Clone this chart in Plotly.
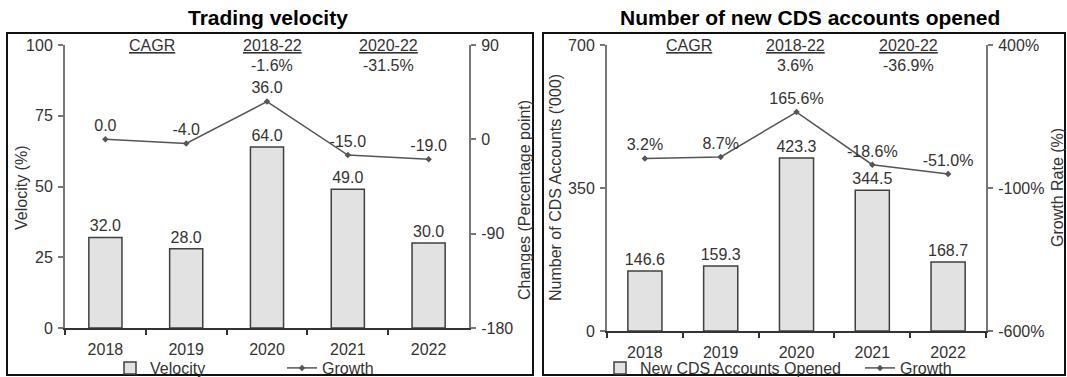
import plotly.graph_objects as go

years = ["2018", "2019", "2020", "2021", "2022"]

velocity = [32.0, 28.0, 64.0, 49.0, 30.0]
velocity_change = [0.0, -4.0, 36.0, -15.0, -19.0]

cds_accounts = [146.6, 159.3, 423.3, 344.5, 168.7]
cds_growth = [3.2, 8.7, 165.6, -18.6, -51.0]

cagr_headers = ["CAGR", "2018-22", "2020-22"]
left_cagr_vals = ["-1.6%", "-31.5%"]
right_cagr_vals = ["3.6%", "-36.9%"]

left_y_ticks = [0, 25, 50, 75, 100]
left_y2_ticks = [-180, -90, 0, 90]
right_y_ticks = [0, 350, 700]
right_y2_ticks = [-600, -100, 400]

W, H = 1067, 377
FONT = "Liberation Sans, Arial, sans-serif"
TXT = "#333333"
BAR_FILL = "#e2e2e2"
BAR_LINE = "#404040"
LINE_C = "#555555"


def px(x):
    return x / W


def py(y):
    return (H - y) / H


fig = go.Figure()

fig.add_trace(go.Bar(
    x=years, y=velocity, name="Velocity", xaxis="x", yaxis="y",
    marker=dict(color=BAR_FILL, line=dict(color=BAR_LINE, width=1.5)),
    width=0.41, text=[f"{v:.1f}" for v in velocity], textposition="outside",
    constraintext="none",
    textfont=dict(size=16, color=TXT), cliponaxis=False, legend="legend",
))
fig.add_trace(go.Scatter(
    x=years, y=velocity_change, name="Growth", xaxis="x", yaxis="y2",
    mode="lines+markers+text", line=dict(color=LINE_C, width=1.5),
    marker=dict(symbol="diamond", size=5, color=LINE_C),
    text=[f"{v:.1f}" for v in velocity_change], textposition="top center",
    textfont=dict(size=16, color=TXT), cliponaxis=False, legend="legend",
))

fig.add_trace(go.Bar(
    x=years, y=cds_accounts, name="New CDS Accounts Opened", xaxis="x2", yaxis="y3",
    marker=dict(color=BAR_FILL, line=dict(color=BAR_LINE, width=1.5)),
    width=0.45, text=[f"{v:.1f}" for v in cds_accounts], textposition="outside",
    constraintext="none",
    textfont=dict(size=16, color=TXT), cliponaxis=False, legend="legend2",
))
fig.add_trace(go.Scatter(
    x=years, y=cds_growth, name="Growth", xaxis="x2", yaxis="y4",
    mode="lines+markers+text", line=dict(color=LINE_C, width=1.5),
    marker=dict(symbol="diamond", size=5, color=LINE_C),
    text=[f"{v:.1f}%" for v in cds_growth], textposition="top center",
    textfont=dict(size=16, color=TXT), cliponaxis=False, legend="legend2",
))

axis_common = dict(showgrid=False, zeroline=False, showline=True,
                   tickfont=dict(size=16, color=TXT, family=FONT),
                   ticks="outside", ticklen=5, fixedrange=True)
xcommon = dict(axis_common, type="category", linecolor="#333333", linewidth=2,
               tickcolor="#333333", tickwidth=1.5, tickson="boundaries",
               ticklabelstandoff=6)
ycommon = dict(axis_common, linecolor="#777777", linewidth=2,
               tickcolor="#777777", tickwidth=1.5, ticklabelstandoff=2)


def tick_text(vals, suffix=""):
    return [f"{v}{suffix}" for v in vals]


fig.update_layout(
    width=W, height=H,
    margin=dict(l=0, r=0, t=0, b=0, autoexpand=False),
    paper_bgcolor="white", plot_bgcolor="white",
    font=dict(family=FONT, size=16, color=TXT),
    xaxis=dict(xcommon, domain=[px(65), px(469)], anchor="y"),
    yaxis=dict(ycommon, domain=[py(328), py(45)], anchor="x",
               range=[0, 100], tickvals=left_y_ticks, ticktext=tick_text(left_y_ticks)),
    yaxis2=dict(ycommon, overlaying="y", side="right", anchor="x",
                range=[-180, 90], tickvals=left_y2_ticks, ticktext=tick_text(left_y2_ticks)),
    xaxis2=dict(xcommon, domain=[px(607), px(986)], anchor="y3"),
    yaxis3=dict(ycommon, domain=[py(331), py(45)], anchor="x2",
                range=[0, 700], tickvals=right_y_ticks, ticktext=tick_text(right_y_ticks)),
    yaxis4=dict(ycommon, overlaying="y3", side="right", anchor="x2",
                range=[-600, 400], tickvals=right_y2_ticks,
                ticktext=tick_text(right_y2_ticks, "%")),
    legend=dict(orientation="h", x=px(110), y=py(368), xanchor="left", yanchor="middle",
                font=dict(size=16, color=TXT), itemwidth=30, entrywidth=127,
                bgcolor="rgba(0,0,0,0)", tracegroupgap=0),
    legend2=dict(orientation="h", x=px(600), y=py(368), xanchor="left", yanchor="middle",
                 font=dict(size=16, color=TXT), itemwidth=30, entrywidth=215,
                 bgcolor="rgba(0,0,0,0)", tracegroupgap=0),
    showlegend=True,
)

shapes = [
    dict(type="rect", xref="paper", yref="paper", x0=px(7), x1=px(533), y0=py(375), y1=py(33),
         line=dict(color="#111111", width=2), fillcolor="rgba(0,0,0,0)", layer="below"),
    dict(type="rect", xref="paper", yref="paper", x0=px(543), x1=px(1065), y0=py(375), y1=py(33),
         line=dict(color="#111111", width=2), fillcolor="rgba(0,0,0,0)", layer="below"),
]
fig.update_layout(shapes=shapes)

ann = []


def add_text(text, x, y, size=16, angle=0, bold=False, color=TXT):
    ann.append(dict(text=f"<b>{text}</b>" if bold else text, x=px(x), y=py(y),
                    xref="paper", yref="paper", showarrow=False, textangle=angle,
                    xanchor="center", yanchor="middle",
                    font=dict(size=size, color=color, family=FONT)))


add_text("Trading velocity", 268, 17, size=21, bold=True, color="#000000")
add_text("Number of new CDS accounts opened", 810, 17, size=21, bold=True, color="#000000")

left_x = [152, 272, 388]
right_x = [689, 795, 908]
for h, x in zip(cagr_headers, left_x):
    add_text("<u>" + h + "</u>", x, 46)
for v, x in zip(left_cagr_vals, left_x[1:]):
    add_text(v, x, 66)
for h, x in zip(cagr_headers, right_x):
    add_text("<u>" + h + "</u>", x, 46)
for v, x in zip(right_cagr_vals, right_x[1:]):
    add_text(v, x, 66)

add_text("Velocity (%)", 21, 188, angle=-90)
add_text("Changes (Percentage point)", 524, 200, angle=-90)
add_text("Number of CDS Accounts ('000)", 555, 188, angle=-90)
add_text("Growth Rate (%)", 1057, 188, angle=-90)

fig.update_layout(annotations=ann)

fig.write_html("out.html")
